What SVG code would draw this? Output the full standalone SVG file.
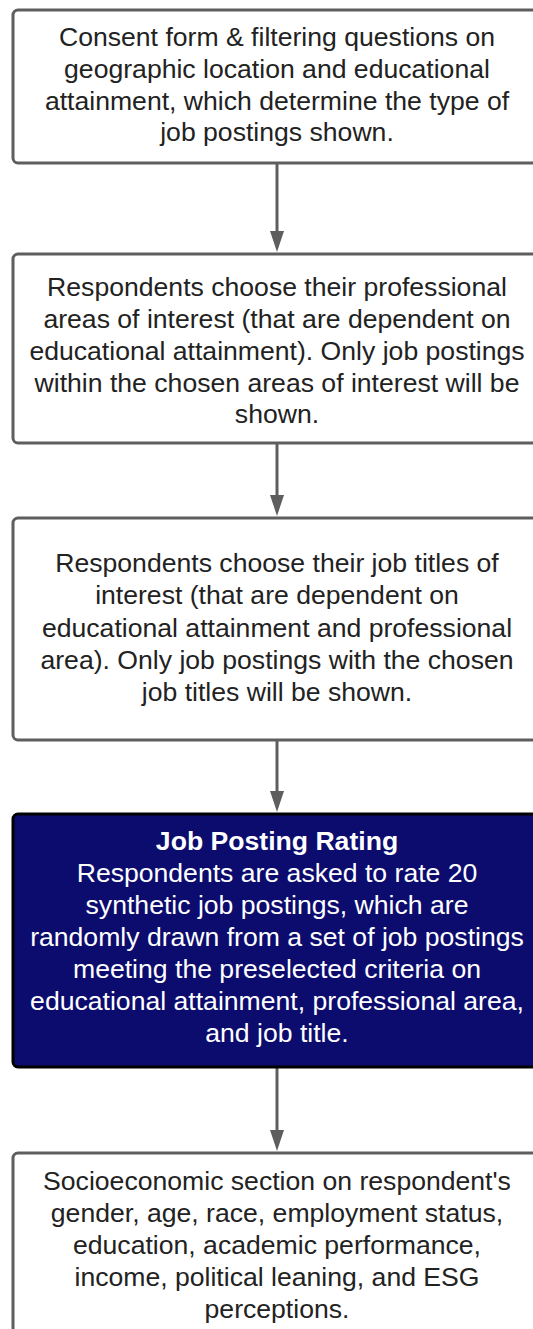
<svg xmlns="http://www.w3.org/2000/svg" width="533" height="1329" viewBox="0 0 533 1329">
<style>
.box{fill:#ffffff;stroke:#5e5e5e;stroke-width:3}
.dark{fill:#0c0c6e;stroke:#000000;stroke-width:3}
.t{font-family:"Liberation Sans",Arial,sans-serif;font-size:26.6px;fill:#222222;text-anchor:middle}
.w{fill:#ffffff}
.b{font-weight:bold}
.c{stroke:#5e5e5e;stroke-width:3;fill:none}
</style>
<rect width="533" height="1329" fill="#ffffff"/>
<g id="connectors">
<line class="c" x1="277" y1="164" x2="277" y2="234"/>
<path d="M270,231 L284,231 L277,252 Z" fill="#5e5e5e"/>
<line class="c" x1="277" y1="444" x2="277" y2="498"/>
<path d="M270,495 L284,495 L277,516 Z" fill="#5e5e5e"/>
<line class="c" x1="277" y1="741" x2="277" y2="794"/>
<path d="M270,791 L284,791 L277,812 Z" fill="#5e5e5e"/>
<line class="c" x1="277" y1="1068" x2="277" y2="1133"/>
<path d="M270,1130 L284,1130 L277,1151 Z" fill="#5e5e5e"/>
</g>
<g id="n1">
<rect class="box" x="13" y="10" width="528" height="153" rx="5"/>
<text class="t" x="277" y="46">Consent form &amp; filtering questions on</text>
<text class="t" x="277" y="78">geographic location and educational</text>
<text class="t" x="277" y="110">attainment, which determine the type of</text>
<text class="t" x="277" y="141">job postings shown.</text>
</g>
<g id="n2">
<rect class="box" x="13" y="254" width="528" height="189" rx="5"/>
<text class="t" x="277" y="296">Respondents choose their professional</text>
<text class="t" x="277" y="328">areas of interest (that are dependent on</text>
<text class="t" x="277" y="360">educational attainment). Only job postings</text>
<text class="t" x="277" y="392">within the chosen areas of interest will be</text>
<text class="t" x="277" y="423">shown.</text>
</g>
<g id="n3">
<rect class="box" x="13" y="518" width="528" height="222" rx="5"/>
<text class="t" x="277" y="572">Respondents choose their job titles of</text>
<text class="t" x="277" y="604">interest (that are dependent on</text>
<text class="t" x="277" y="637">educational attainment and professional</text>
<text class="t" x="277" y="669">area). Only job postings with the chosen</text>
<text class="t" x="277" y="701">job titles will be shown.</text>
</g>
<g id="n4">
<rect class="dark" x="13" y="814" width="528" height="253" rx="5"/>
<text class="t w b" x="277" y="850">Job Posting Rating</text>
<text class="t w" x="277" y="882">Respondents are asked to rate 20</text>
<text class="t w" x="277" y="914">synthetic job postings, which are</text>
<text class="t w" x="277" y="946">randomly drawn from a set of job postings</text>
<text class="t w" x="277" y="978">meeting the preselected criteria on</text>
<text class="t w" x="277" y="1010">educational attainment, professional area,</text>
<text class="t w" x="277" y="1042">and job title.</text>
</g>
<g id="n5">
<rect class="box" x="13" y="1153" width="528" height="200" rx="5"/>
<text class="t" x="277" y="1190">Socioeconomic section on respondent's</text>
<text class="t" x="277" y="1222">gender, age, race, employment status,</text>
<text class="t" x="277" y="1254">education, academic performance,</text>
<text class="t" x="277" y="1286">income, political leaning, and ESG</text>
<text class="t" x="277" y="1318">perceptions.</text>
</g>
</svg>
